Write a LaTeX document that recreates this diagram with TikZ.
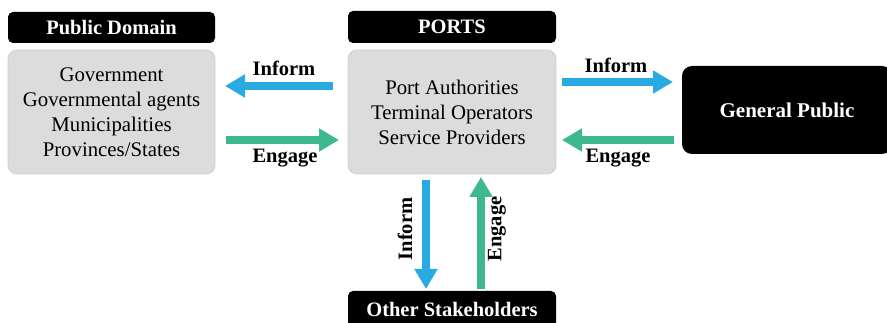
\documentclass[tikz,border=0pt]{standalone}
\usepackage{fontspec}
\setmainfont{Liberation Serif}
\usetikzlibrary{arrows.meta}
\definecolor{infoblue}{HTML}{29AAE1}
\definecolor{enggreen}{HTML}{3DB88F}
\definecolor{boxgray}{HTML}{DCDCDC}
\definecolor{boxline}{HTML}{CFCFCF}
\begin{document}
\begin{tikzpicture}[x=1pt,y=-1pt,
  header/.style={fill=black,text=white,rounded corners=5pt,inner sep=0pt,font=\bfseries\fontsize{20.5}{22}\selectfont},
  graybox/.style={fill=boxgray,draw=boxline,line width=0.8pt,rounded corners=9pt,inner sep=0pt,align=center,font=\fontsize{20.8}{25}\selectfont},
  blackbox/.style={fill=black,text=white,rounded corners=10pt,inner sep=0pt,font=\bfseries\fontsize{21}{22}\selectfont},
  infoarrow/.style={draw=infoblue,line width=7.5pt,-{Triangle[width=22pt,length=20pt]}},
  engarrow/.style={draw=enggreen,line width=7.5pt,-{Triangle[width=22pt,length=20pt]}},
  lbl/.style={font=\bfseries\fontsize{20.5}{22}\selectfont,inner sep=0pt}
]
\useasboundingbox (0,0) rectangle (887,323);
% headers
\node[header,minimum width=207pt,minimum height=31pt] (pdh) at (111.5,27.5) {Public Domain};
\node[header,minimum width=208pt,minimum height=32pt] (porth) at (452,27) {PORTS};
% gray boxes
\node[graybox,minimum width=207pt,minimum height=124pt] (pd) at (111.5,112) {Government\\Governmental agents\\Municipalities\\Provinces/States};
\node[graybox,minimum width=208pt,minimum height=124pt] (ports) at (452,112) {Port Authorities\\Terminal Operators\\Service Providers};
% general public
\node[blackbox,minimum width=210pt,minimum height=88pt] (gp) at (787,110) {General Public};
% other stakeholders
\node[header,minimum width=208pt,minimum height=36pt] (os) at (452,309) {Other Stakeholders};
% coordinates for arrow ends
\coordinate (a1s) at (333,86);  \coordinate (a1e) at (225,86);
\coordinate (a2s) at (226,140); \coordinate (a2e) at (339,140);
\coordinate (a3s) at (562,82);  \coordinate (a3e) at (673,82);
\coordinate (a4s) at (674,140); \coordinate (a4e) at (562,140);
\coordinate (a5s) at (426,180); \coordinate (a5e) at (426,289);
\coordinate (a6s) at (481,289); \coordinate (a6e) at (481,177);
% arrows
\draw[infoarrow] (a1s) -- (a1e);
\draw[engarrow] (a2s) -- (a2e);
\draw[infoarrow] (a3s) -- (a3e);
\draw[engarrow] (a4s) -- (a4e);
\draw[infoarrow] (a5s) -- (a5e);
\draw[engarrow] (a6s) -- (a6e);
% labels
\node[lbl] (l1) at (284,68) {Inform};
\node[lbl] (l2) at (285,158) {Engage};
\node[lbl] (l3) at (616,65) {Inform};
\node[lbl] (l4) at (618,158) {Engage};
\node[lbl,rotate=90] (l5) at (405,229) {Inform};
\node[lbl,rotate=90] (l6) at (497,229) {Engage};
\end{tikzpicture}
\end{document}
